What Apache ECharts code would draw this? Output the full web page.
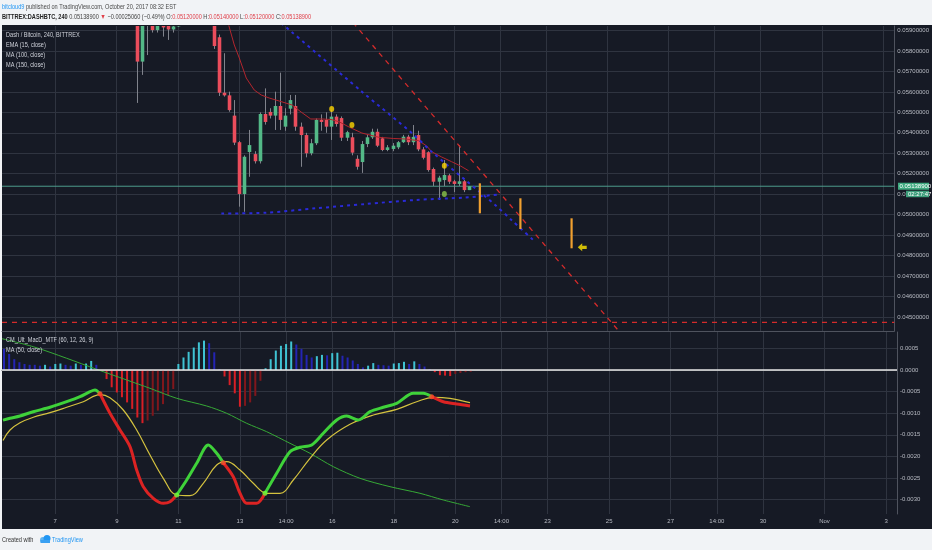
<!DOCTYPE html>
<html><head><meta charset="utf-8">
<script src="https://cdn.jsdelivr.net/npm/echarts@6/dist/echarts.min.js"></script>
<style>html,body{margin:0;padding:0;background:#f1f3f6;}#c{width:932px;height:550px;}</style>
</head><body><div id="c"></div>
<script>
// ---------- DATA ----------
// 4h candles, first one Oct 9 16:00 (day-of-October units)
const candleStartDay = 9 + 16 / 24;
const candleStepDays = 4 / 24;
const candleOpen  = [0.0596,0.05748,0.0593,0.0594,0.05902,0.0594,0.0594,0.05905,0.0592,0.0596,0.0599,0.0597,0.0600,0.0598,0.0599,0.0597,0.05867,0.05596,0.05583,0.05484,0.05354,0.05101,0.05306,0.05296,0.05261,0.05492,0.05502,0.05484,0.05531,0.0543,0.05518,0.05531,0.0543,0.05389,0.053,0.05349,0.05463,0.05463,0.0543,0.05479,0.05472,0.05376,0.05378,0.05273,0.05257,0.05345,0.05378,0.05405,0.05373,0.05316,0.05321,0.05329,0.05354,0.05381,0.05354,0.05389,0.05319,0.05305,0.05223,0.05161,0.05169,0.05192,0.05163,0.0515,0.05163,0.0512];
const candleClose = [0.05748,0.0594,0.0595,0.05902,0.0593,0.05915,0.05905,0.0592,0.0596,0.0599,0.0597,0.0600,0.0598,0.0599,0.0597,0.05824,0.05596,0.05583,0.05511,0.05352,0.05101,0.05283,0.0534,0.05261,0.05492,0.05453,0.05484,0.05531,0.05463,0.05484,0.0556,0.0543,0.05389,0.053,0.05349,0.05463,0.05453,0.0543,0.05479,0.05443,0.05376,0.05403,0.05303,0.05234,0.05345,0.05378,0.05405,0.05337,0.05316,0.05329,0.05337,0.05354,0.05381,0.05354,0.0538,0.05319,0.05278,0.05218,0.05161,0.05181,0.05194,0.05161,0.0515,0.05163,0.0512,0.051389];
const candleLow   = [0.05546,0.05683,0.0578,0.0589,0.0589,0.0587,0.05854,0.0589,0.05918,0.0594,0.0595,0.0595,0.0595,0.0594,0.0594,0.0581,0.0558,0.05577,0.05503,0.0534,0.05039,0.05014,0.05185,0.0525,0.0525,0.0544,0.0547,0.05414,0.05414,0.0541,0.0549,0.0541,0.05234,0.0528,0.0529,0.0534,0.0541,0.054,0.05365,0.0543,0.0536,0.0536,0.0529,0.0522,0.05204,0.0533,0.0537,0.0533,0.0531,0.0531,0.0531,0.0532,0.0535,0.0534,0.0534,0.0531,0.0527,0.0521,0.0514,0.05072,0.0514,0.0515,0.0511,0.0514,0.0511,0.0512];
const candleHigh  = [0.0598,0.0598,0.0597,0.0596,0.0595,0.0596,0.0596,0.0594,0.0598,0.0601,0.0602,0.0603,0.0602,0.0601,0.0600,0.0599,0.0588,0.05789,0.05601,0.0556,0.0536,0.0529,0.05414,0.0531,0.055,0.05617,0.0552,0.05601,0.05694,0.0552,0.05585,0.05585,0.0545,0.054,0.0537,0.0547,0.0549,0.055,0.0551,0.0549,0.0548,0.0541,0.054,0.0529,0.0536,0.0539,0.0542,0.0542,0.0538,0.0534,0.0535,0.0536,0.0539,0.0539,0.05438,0.0541,0.0533,0.0531,0.0523,0.0519,0.05267,0.0520,0.0517,0.0534,0.0517,0.0514];

// overlay lines on price pane: [day, price]
const emaPoints = [[12.629,0.059415],[12.840,0.058291],[13.003,0.057656],[13.230,0.056678],[13.490,0.056092],[13.718,0.055848],[13.977,0.055701],[14.302,0.055554],[14.725,0.055359],[15.017,0.055017],[15.333,0.054675],[15.700,0.054675],[15.993,0.054650],[16.253,0.054542],[16.578,0.054284],[16.999,0.053990],[17.553,0.053780],[18.040,0.053721],[18.420,0.053697],[18.853,0.053614],[19.112,0.053355],[19.275,0.053076],[19.600,0.052817],[19.925,0.052587],[20.217,0.052377],[20.477,0.052148]];
const ma100Points = [[14.368,0.059367],[17.000,0.056009],[18.625,0.053990],[19.275,0.053076],[20.370,0.051693],[21.345,0.050471],[21.875,0.049738],[22.645,0.048677]];
const ma150Points = [[12.418,0.050056],[13.870,0.050095],[15.495,0.050310],[17.120,0.050520],[18.745,0.050716],[20.370,0.050838],[21.452,0.050984]];
const trendLine = [[16.707,0.059391],[25.628,0.043873]];
const supportLevel = 0.04473;
const projectionBars = [[20.845,0.050066,0.051532],[22.167,0.049298,0.050799],[23.835,0.048355,0.049821]];
const arrowPoint = [[24.182,0.048404]];
const yellowDots = [[16.015,0.055163],[16.675,0.054381],[19.688,0.052392]];
const greenDots = [[19.688,0.051009]];

// MACD pane
const histStartK = -26;
const histValues = [0.00049,0.00037,0.00025,0.00018,0.00014,0.00012,0.00012,0.00010,0.00012,0.00008,0.00014,0.00015,0.00012,0.00010,0.00015,0.00012,0.00015,0.00021,0.00012,-0.00002,-0.00021,-0.00040,-0.00052,-0.00063,-0.00075,-0.00090,-0.00110,-0.00123,-0.00117,-0.00106,-0.00094,-0.00079,-0.00059,-0.00044,0.00014,0.00029,0.00042,0.00052,0.00064,0.00068,0.00062,0.00041,0.00002,-0.00015,-0.00035,-0.00054,-0.00085,-0.00083,-0.00075,-0.00060,-0.00025,0.00004,0.00025,0.00045,0.00056,0.00060,0.00066,0.00059,0.00049,0.00035,0.00029,0.00032,0.00035,0.00034,0.00039,0.00040,0.00033,0.00029,0.00022,0.00014,0.00006,0.00010,0.00016,0.00012,0.00011,0.00010,0.00015,0.00016,0.00019,0.00014,0.00020,0.00014,0.00008,0.00002,-0.00005,-0.00012,-0.00013,-0.00014,-0.00009,-0.00007,-0.00005,-0.00004];
const macdDays = [5.300,5.528,5.853,6.285,6.828,7.371,7.803,8.128,8.290,8.453,8.778,9.103,9.428,9.645,9.860,10.185,10.510,10.728,10.945,11.270,11.595,11.972,12.245,12.460,12.785,13.003,13.220,13.545,13.815,14.195,14.627,14.952,15.333,15.710,16.145,16.470,16.847,17.227,17.660,18.095,18.635,18.960,19.233,19.610,20.045,20.477];
const macdVals = [-0.00116,-0.001118,-0.001065,-0.000965,-0.000863,-0.000734,-0.000618,-0.000502,-0.000463,-0.00055,-0.001002,-0.001389,-0.001775,-0.002315,-0.002701,-0.00297,-0.003086,-0.003049,-0.002894,-0.002546,-0.00216,-0.001736,-0.001928,-0.002146,-0.00247,-0.002854,-0.003086,-0.003086,-0.002854,-0.002391,-0.001891,-0.001789,-0.001736,-0.001465,-0.001157,-0.001065,-0.001157,-0.000965,-0.000863,-0.000771,-0.000539,-0.000539,-0.000618,-0.000734,-0.000787,-0.000833];
const macdCrossDays = [8.453,10.945,12.460,13.815,19.233];
const signalPoints = [[5.300,-0.00163],[5.528,-0.001389],[5.853,-0.00122],[6.285,-0.001095],[6.828,-0.000988],[7.371,-0.000863],[7.910,-0.000734],[8.453,-0.00057],[8.778,-0.000641],[9.210,-0.000926],[9.645,-0.001389],[10.078,-0.001968],[10.510,-0.002507],[10.945,-0.002894],[11.378,-0.00291],[11.810,-0.002623],[12.245,-0.002199],[12.570,-0.002123],[13.003,-0.002315],[13.435,-0.002623],[13.870,-0.002854],[14.303,-0.002854],[14.735,-0.002546],[15.278,-0.002044],[15.820,-0.00162],[16.578,-0.001257],[17.335,-0.001042],[18.095,-0.00091],[18.745,-0.000734],[19.285,-0.000632],[19.828,-0.000655],[20.477,-0.000757]];
const ma50Points = [[5.268,0.000725],[6.285,0.000539],[7.371,0.000271],[8.345,0.000016],[9.320,-0.000231],[10.078,-0.000424],[10.945,-0.000655],[11.920,-0.000833],[12.570,-0.001002],[13.220,-0.001234],[13.870,-0.001428],[14.627,-0.001697],[15.278,-0.001928],[16.035,-0.002238],[16.902,-0.002507],[17.878,-0.002701],[18.852,-0.002854],[19.610,-0.003009],[20.477,-0.003164]];

// axis ticks
const tickDays = [7,9,11,13,14.5,16,18,20,21.5,23,25,27,28.5,30,32,34];
const tickLabels = ['7','9','11','13','14:00','16','18','20','14:00','23','25','27','14:00','30','Nov','3'];
const priceTicks = [0.045,0.046,0.047,0.048,0.049,0.050,0.051,0.052,0.053,0.054,0.055,0.056,0.057,0.058,0.059];
const macdTicks = [-0.003,-0.0025,-0.002,-0.0015,-0.001,-0.0005,0,0.0005];

// ---------- STYLE ----------
const FONT = 'Liberation Sans';
const BG = '#161a25', GRID = '#2f3440', AXIS = '#4f535e', LBL = '#b8bbc3';
const UP = '#53b987', DOWN = '#eb4d5c', WICK = '#80838c';
const xMin = 5.268, xMax = 34.355;

const candleData = candleOpen.map((o, i) => [candleStartDay + i * candleStepDays, o, candleClose[i], candleLow[i], candleHigh[i]]);
const lastClose = candleClose[candleClose.length - 1];

const AQUA = '#3fc3d3', BLUE = '#2424b4', RED = '#d81f26', MAROON = '#80171c';
const histData = histValues.map((v, i) => {
  const p = i > 0 ? histValues[i - 1] : v;
  const col = v >= 0 ? (v > p ? AQUA : BLUE) : (v < p ? RED : MAROON);
  return { value: [candleStartDay + (histStartK + i) * candleStepDays, v], itemStyle: { color: col } };
});

function macdSeg(wantGreen) {
  return macdDays.map((d, i) => {
    const seg = macdCrossDays.filter(c => c < d - 1e-9).length;
    const green = seg % 2 === 0;
    const isCross = macdCrossDays.some(c => Math.abs(c - d) < 1e-9);
    return [d, (green === wantGreen || isCross) ? macdVals[i] : '-'];
  });
}
const crossDots = macdCrossDays.map((c, j) => {
  const i = macdDays.findIndex(d => Math.abs(d - c) < 1e-9);
  return { value: [c, macdVals[i]], itemStyle: { color: j % 2 === 0 ? '#ff4a2a' : '#6dff3a' } };
});

const tickFmt = v => { const i = tickDays.findIndex(d => Math.abs(d - v) < 1e-6); return i >= 0 ? tickLabels[i] : ''; };

function xAx(gi, showLabels) {
  return {
    type: 'value', gridIndex: gi, min: xMin, max: xMax,
    axisLine: { show: true, lineStyle: { color: AXIS, width: 1 } },
    axisTick: { show: false, customValues: tickDays },
    axisLabel: { show: showLabels, customValues: tickDays, formatter: tickFmt, color: LBL, fontSize: 6, fontFamily: FONT, margin: 4 },
    splitLine: { show: true, lineStyle: { color: GRID, width: 1 } }
  };
}

function txt(id, x, y, text, fill, extra) {
  return Object.assign({ id, type: 'text', x, y, scaleX: 0.8, z: 50,
    style: { text, fill, fontSize: 7, fontFamily: FONT, textVerticalAlign: 'middle', textAlign: 'left' } }, extra || {});
}

const baseGraphics = [
  { id: 'bg', type: 'rect', z: -100, shape: { x: 2, y: 25, width: 930, height: 504 }, style: { fill: BG } },
  txt('h1', 2, 7, '', '#444', {
    style: { text: '{a|bitcloud9}{b| published on TradingView.com, October 20, 2017 08:32 EST}', fontSize: 7, fontFamily: FONT, textVerticalAlign: 'middle',
      rich: { a: { fill: '#2196f3', fontSize: 7, fontFamily: FONT }, b: { fill: '#4a4a4a', fontSize: 7, fontFamily: FONT } } } }),
  txt('h2', 2, 17, '', '#333', {
    style: { text: '{k|BITTREX:DASHBTC, 240} {n|0.05138900} {r|▼} {n|−0.00025060 (−0.49%)} {n|O:}{r|0.05120000} {n|H:}{r|0.05140000} {n|L:}{r|0.05120000} {n|C:}{r|0.05138900}',
      fontSize: 7, fontFamily: FONT, textVerticalAlign: 'middle',
      rich: { k: { fill: '#222', fontWeight: 'bold', fontSize: 7, fontFamily: FONT }, n: { fill: '#444', fontSize: 7, fontFamily: FONT }, r: { fill: '#e0404a', fontSize: 7, fontFamily: FONT } } } }),
  txt('l1', 6, 35, 'Dash / Bitcoin, 240, BITTREX', '#cfd2da'),
  txt('l2', 6, 45.5, 'EMA (15, close)', '#cfd2da'),
  txt('l3', 6, 55.5, 'MA (100, close)', '#cfd2da'),
  txt('l4', 6, 65.5, 'MA (150, close)', '#cfd2da'),
  txt('m1', 6, 340, 'CM_Ult_MacD_MTF (60, 12, 26, 9)', '#cfd2da'),
  txt('m2', 6, 350, 'MA (50, close)', '#cfd2da'),
  txt('f1', 2, 540, 'Created with', '#333'),
  { id: 'logo1', type: 'circle', shape: { cx: 43, cy: 540, r: 3 }, style: { fill: '#5fb3f0' } },
  { id: 'logo2', type: 'circle', shape: { cx: 47, cy: 538.5, r: 3.5 }, style: { fill: '#2196f3' } },
  { id: 'logo3', type: 'rect', shape: { x: 40.5, y: 540, width: 9.5, height: 3 }, style: { fill: '#3aa0f2' } },
  txt('f2', 52, 540, 'TradingView', '#2196f3')
];

const chart = echarts.init(document.getElementById('c'));
chart.setOption({
  animation: false,
  backgroundColor: '#f1f3f6',
  textStyle: { fontFamily: FONT },
  grid: [
    { left: 2, right: 35, top: 26, height: 305 },
    { left: 2, right: 35, top: 332, height: 182 }
  ],
  xAxis: [xAx(0, false), xAx(1, true)],
  yAxis: [
    { type: 'value', gridIndex: 0, position: 'right', min: 0.044313, max: 0.05922, scale: true,
      axisLine: { show: true, lineStyle: { color: AXIS } }, axisTick: { show: false, customValues: priceTicks },
      axisLabel: { customValues: priceTicks, formatter: v => v.toFixed(8), color: LBL, fontSize: 6, fontFamily: FONT, margin: 3 },
      splitLine: { show: true, lineStyle: { color: GRID } } },
    { type: 'value', gridIndex: 1, position: 'right', min: -0.0033333, max: 0.00087963, scale: true,
      axisLine: { show: true, lineStyle: { color: AXIS } }, axisTick: { show: false, customValues: macdTicks },
      axisLabel: { customValues: macdTicks, formatter: v => v.toFixed(4), color: LBL, fontSize: 6, fontFamily: FONT, margin: 3 },
      splitLine: { show: true, lineStyle: { color: GRID } } }
  ],
  graphic: { elements: baseGraphics },
  series: [
    { name: 'candles', type: 'custom', xAxisIndex: 0, yAxisIndex: 0, clip: true, z: 3,
      encode: { x: 0, y: [1, 2, 3, 4] }, data: candleData,
      renderItem: (params, api) => {
        const x = api.value(0), o = api.value(1), c = api.value(2), l = api.value(3), h = api.value(4);
        const pO = api.coord([x, o]), pC = api.coord([x, c]), pL = api.coord([x, l]), pH = api.coord([x, h]);
        const w = api.size([candleStepDays, 0])[0] * 0.7;
        const col = c >= o ? UP : DOWN;
        const top = Math.min(pO[1], pC[1]), bot = Math.max(pO[1], pC[1]);
        const cx = Math.round(pO[0]) + 0.5;
        return { type: 'group', children: [
          { type: 'line', shape: { x1: cx, y1: pH[1], x2: cx, y2: pL[1] }, style: { stroke: WICK, lineWidth: 1 } },
          { type: 'rect', shape: { x: cx - w / 2, y: top, width: w, height: Math.max(bot - top, 1) }, style: { fill: col } }
        ] };
      } },
    { name: 'lastPrice', type: 'line', xAxisIndex: 0, yAxisIndex: 0, data: [[xMin, lastClose], [xMax, lastClose]], showSymbol: false, z: 2,
      lineStyle: { color: '#4d9c8b', width: 1, type: 'solid' } },
    { name: 'support', type: 'line', xAxisIndex: 0, yAxisIndex: 0, data: [[xMin, supportLevel], [xMax, supportLevel]], showSymbol: false, z: 4,
      lineStyle: { color: '#d42b2b', width: 1.3, type: [5, 5] } },
    { name: 'EMA (15, close)', type: 'line', xAxisIndex: 0, yAxisIndex: 0, data: emaPoints, showSymbol: false, z: 4,
      lineStyle: { color: '#b3262e', width: 1 } },
    { name: 'MA (100, close)', type: 'line', xAxisIndex: 0, yAxisIndex: 0, data: ma100Points, showSymbol: false, smooth: 0.3, z: 4,
      lineStyle: { color: '#2a2ad8', width: 2, type: [3, 4] } },
    { name: 'MA (150, close)', type: 'line', xAxisIndex: 0, yAxisIndex: 0, data: ma150Points, showSymbol: false, smooth: 0.3, z: 4,
      lineStyle: { color: '#2a2ad8', width: 2, type: [3, 4] } },
    { name: 'trend', type: 'line', xAxisIndex: 0, yAxisIndex: 0, data: trendLine, showSymbol: false, z: 4,
      lineStyle: { color: '#d42b2b', width: 1.3, type: [5, 5] } },
    { name: 'projection', type: 'custom', xAxisIndex: 0, yAxisIndex: 0, clip: true, z: 5,
      encode: { x: 0, y: [1, 2] }, data: projectionBars,
      renderItem: (params, api) => {
        const x = api.value(0);
        const p1 = api.coord([x, api.value(1)]), p2 = api.coord([x, api.value(2)]);
        return { type: 'rect', shape: { x: p1[0] - 1.1, y: p2[1], width: 2.2, height: p1[1] - p2[1] }, style: { fill: '#f0a030' } };
      } },
    { name: 'arrow', type: 'scatter', xAxisIndex: 0, yAxisIndex: 0, data: arrowPoint, z: 6,
      symbol: 'path://M0,5 L5,0 L5,3 L10,3 L10,7 L5,7 L5,10 Z', symbolSize: [9, 8], itemStyle: { color: '#ffe600' } },
    { name: 'yellowDots', type: 'scatter', xAxisIndex: 0, yAxisIndex: 0, data: yellowDots, z: 6,
      symbol: 'circle', symbolSize: [5, 6], itemStyle: { color: '#ffd600' } },
    { name: 'greenDots', type: 'scatter', xAxisIndex: 0, yAxisIndex: 0, data: greenDots, z: 6,
      symbol: 'circle', symbolSize: [5, 6], itemStyle: { color: '#8bc34a' } },
    // MACD pane
    { name: 'hist', type: 'bar', xAxisIndex: 1, yAxisIndex: 1, data: histData, barWidth: 2, z: 2,
      markLine: { silent: true, symbol: ['none', 'none'], label: { show: false }, precision: 8,
        data: [{ yAxis: 0 }], lineStyle: { color: '#e6e6e6', width: 1.5, type: 'solid' } } },
    { name: 'MA (50, close)', type: 'line', xAxisIndex: 1, yAxisIndex: 1, data: ma50Points, showSymbol: false, smooth: 0.3, z: 3,
      lineStyle: { color: '#36a936', width: 1 } },
    { name: 'signal', type: 'line', xAxisIndex: 1, yAxisIndex: 1, data: signalPoints, showSymbol: false, smooth: 0.4, z: 4,
      lineStyle: { color: '#d4c23f', width: 1.2 } },
    { name: 'macdUp', type: 'line', xAxisIndex: 1, yAxisIndex: 1, data: macdSeg(true), showSymbol: false, smooth: 0.3, z: 5,
      connectNulls: false, lineStyle: { color: '#3fd23a', width: 3 } },
    { name: 'macdDown', type: 'line', xAxisIndex: 1, yAxisIndex: 1, data: macdSeg(false), showSymbol: false, smooth: 0.3, z: 5,
      connectNulls: false, lineStyle: { color: '#dc2323', width: 3 } },
    { name: 'cross', type: 'scatter', xAxisIndex: 1, yAxisIndex: 1, data: crossDots, z: 6, symbol: 'circle', symbolSize: 5 }
  ]
});

// price / countdown boxes on the price axis
const py = chart.convertToPixel({ yAxisIndex: 0 }, lastClose);
chart.setOption({ graphic: { elements: baseGraphics.concat([
  { id: 'pb1', type: 'rect', z: 60, shape: { x: 898, y: py - 3.5, width: 31, height: 7 }, style: { fill: '#3faa80' } },
  { id: 'pt1', type: 'text', z: 61, x: 899.5, y: py, style: { text: lastClose.toFixed(8), fill: '#ffffff', fontSize: 6, fontFamily: FONT, textVerticalAlign: 'middle' } },
  { id: 'pb2', type: 'rect', z: 60, shape: { x: 906, y: py + 4.5, width: 23, height: 6.5 }, style: { fill: '#3c9d7a' } },
  { id: 'pt2', type: 'text', z: 61, x: 908, y: py + 7.8, style: { text: '02:27:47', fill: '#ffffff', fontSize: 6, fontFamily: FONT, textVerticalAlign: 'middle' } }
]) } });
</script>
</body></html>
